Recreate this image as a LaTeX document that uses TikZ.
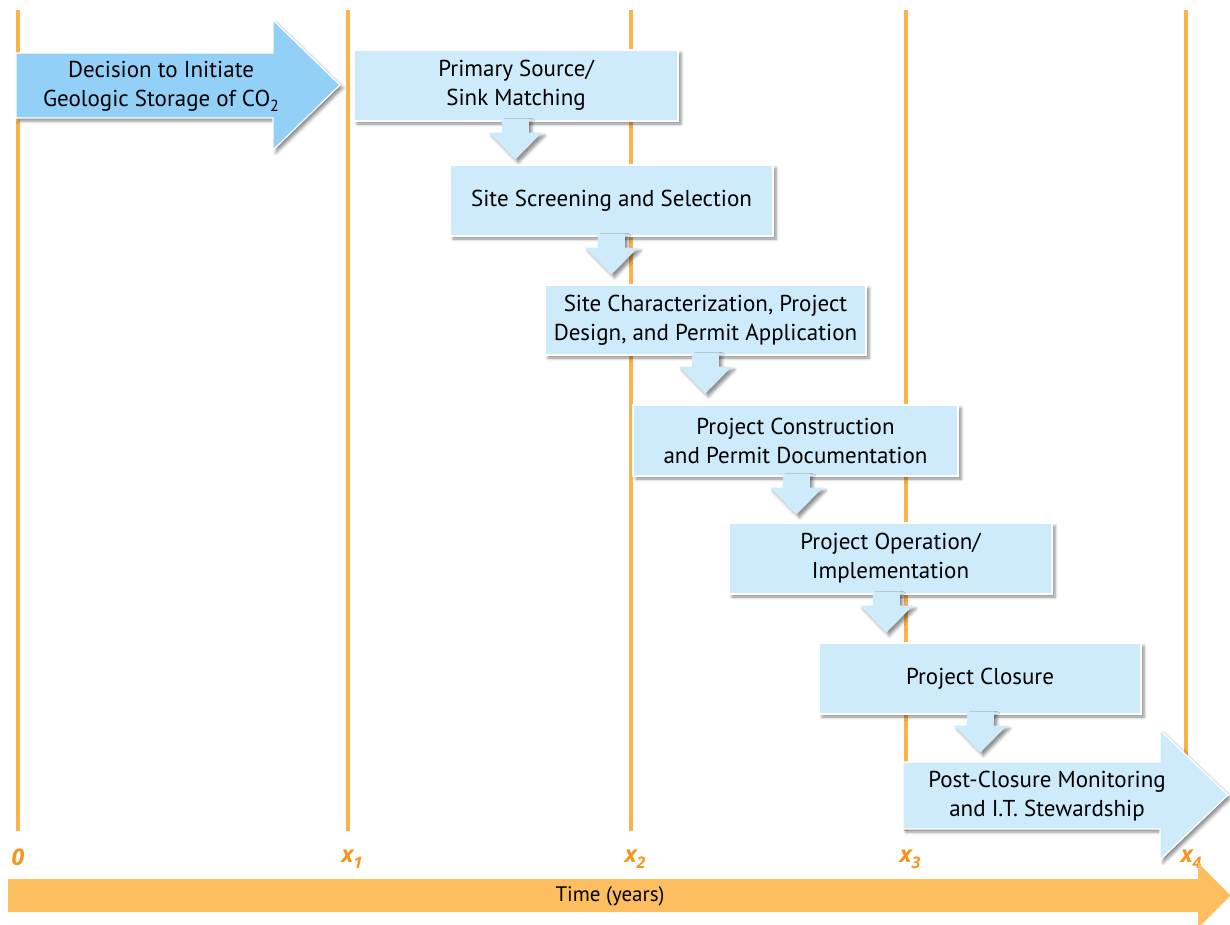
\documentclass[tikz,border=0pt]{standalone}
\usepackage{fontspec}
\setmainfont{PT Sans}
\newfontfamily\tickfont{Open Sans}
\usetikzlibrary{shadows.blur,calc}
\definecolor{vline}{HTML}{FBB24A}
\definecolor{lab}{HTML}{F7941D}
\definecolor{axisc}{HTML}{FDBE60}
\definecolor{darkarrow}{HTML}{93D0F7}
\definecolor{boxblue}{HTML}{CDEBFA}
\tikzset{
 shad/.style={blur shadow={shadow xshift=3pt,shadow yshift=-3pt,shadow blur radius=3pt,shadow opacity=45}},
 stage/.style={rectangle, fill=boxblue, draw=white, line width=1.2pt, shad, inner sep=0pt, align=center, font=\fontsize{23}{29}\selectfont},
 ptr/.style={fill=boxblue, shad},
 bigarrow/.style={draw=white, line width=1.2pt, shad},
 guide/.style={draw=vline, line width=3.5pt},
 tick/.style={text=lab, font=\tickfont\fontsize{23}{23}\selectfont\bfseries\itshape, inner sep=0pt},
 txt/.style={align=center, font=\fontsize{23}{29}\selectfont, inner sep=0pt},
}
\newcommand\pointer[2]{\fill[ptr] ($(#1.south west)+(#2-13.5,-3)$) -- ++(0,14) -- ++(-13,0) -- ++(26.5,27) -- ++(26.5,-27) -- ++(-13,0) -- ++(0,-14) -- cycle;}
\newcommand\sub[1]{\raisebox{-5pt}{\fontsize{16}{16}\selectfont #1}}
\newcommand\tsub[1]{\raisebox{-6pt}{\fontsize{16}{16}\selectfont #1}}
\begin{document}
\begin{tikzpicture}[x=1pt,y=-1pt]
\useasboundingbox (0,0) rectangle (1230,924);
% guide lines
\foreach \n/\x in {0/18,1/348,2/631,3/906,4/1186}{
  \coordinate (gt\n) at (\x,10);
  \coordinate (gb\n) at (\x,831);
  \draw[guide] (gt\n) -- (gb\n);
}
% tick labels
\node[tick] (l0) at (18,857) {0};
\node[tick] (l1) at (352,859) {x\tsub{1}};
\node[tick] (l2) at (635,859) {x\tsub{2}};
\node[tick] (l3) at (910,859) {x\tsub{3}};
\node[tick] (l4) at (1191,859) {x\tsub{4}};
% time axis
\fill[axisc] (8,879) -- (1198,879) -- (1198,863) -- (1230.5,895.5) -- (1198,928) -- (1198,912) -- (8,912) -- cycle;
\node[txt, font=\fontsize{21}{24}\selectfont] (tl) at (610,896) {Time (years)};
% decision arrow
\fill[darkarrow, bigarrow] (16,53) -- (273,53) -- (273,20) -- (340,85) -- (273,150) -- (273,118) -- (16,118) -- cycle;
\node[txt] (d) at (161,86) {Decision to Initiate\\Geologic Storage of CO\sub{2}};
% stages
\node[stage, minimum width=324pt, minimum height=71pt] (b1) at (516,85.5) {Primary Source/\\Sink Matching};
\pointer{b1}{162}
\node[stage, minimum width=323pt, minimum height=71pt] (b2) at (611.5,200.5) {Site Screening and Selection};
\pointer{b2}{162}
\node[stage, minimum width=321pt, minimum height=70pt] (b3) at (705.5,320) {Site Characterization, Project\\Design, and Permit Application};
\pointer{b3}{161}
\node[stage, minimum width=325pt, minimum height=71pt] (b4) at (795.5,440.5) {Project Construction\\and Permit Documentation};
\pointer{b4}{164}
\node[stage, minimum width=323pt, minimum height=71pt] (b5) at (890.5,558.5) {Project Operation/\\Implementation};
\pointer{b5}{158}
\node[stage, minimum width=322pt, minimum height=71pt] (b6) at (980,678.5) {Project Closure};
\pointer{b6}{162}
% post-closure arrow
\fill[boxblue, bigarrow] (903,762) -- (1160,762) -- (1160,730) -- (1228,795) -- (1160,860) -- (1160,829) -- (903,829) -- cycle;
\node[txt] (pc) at (1047,796) {Post-Closure Monitoring\\and I.T. Stewardship};
\end{tikzpicture}
\end{document}
